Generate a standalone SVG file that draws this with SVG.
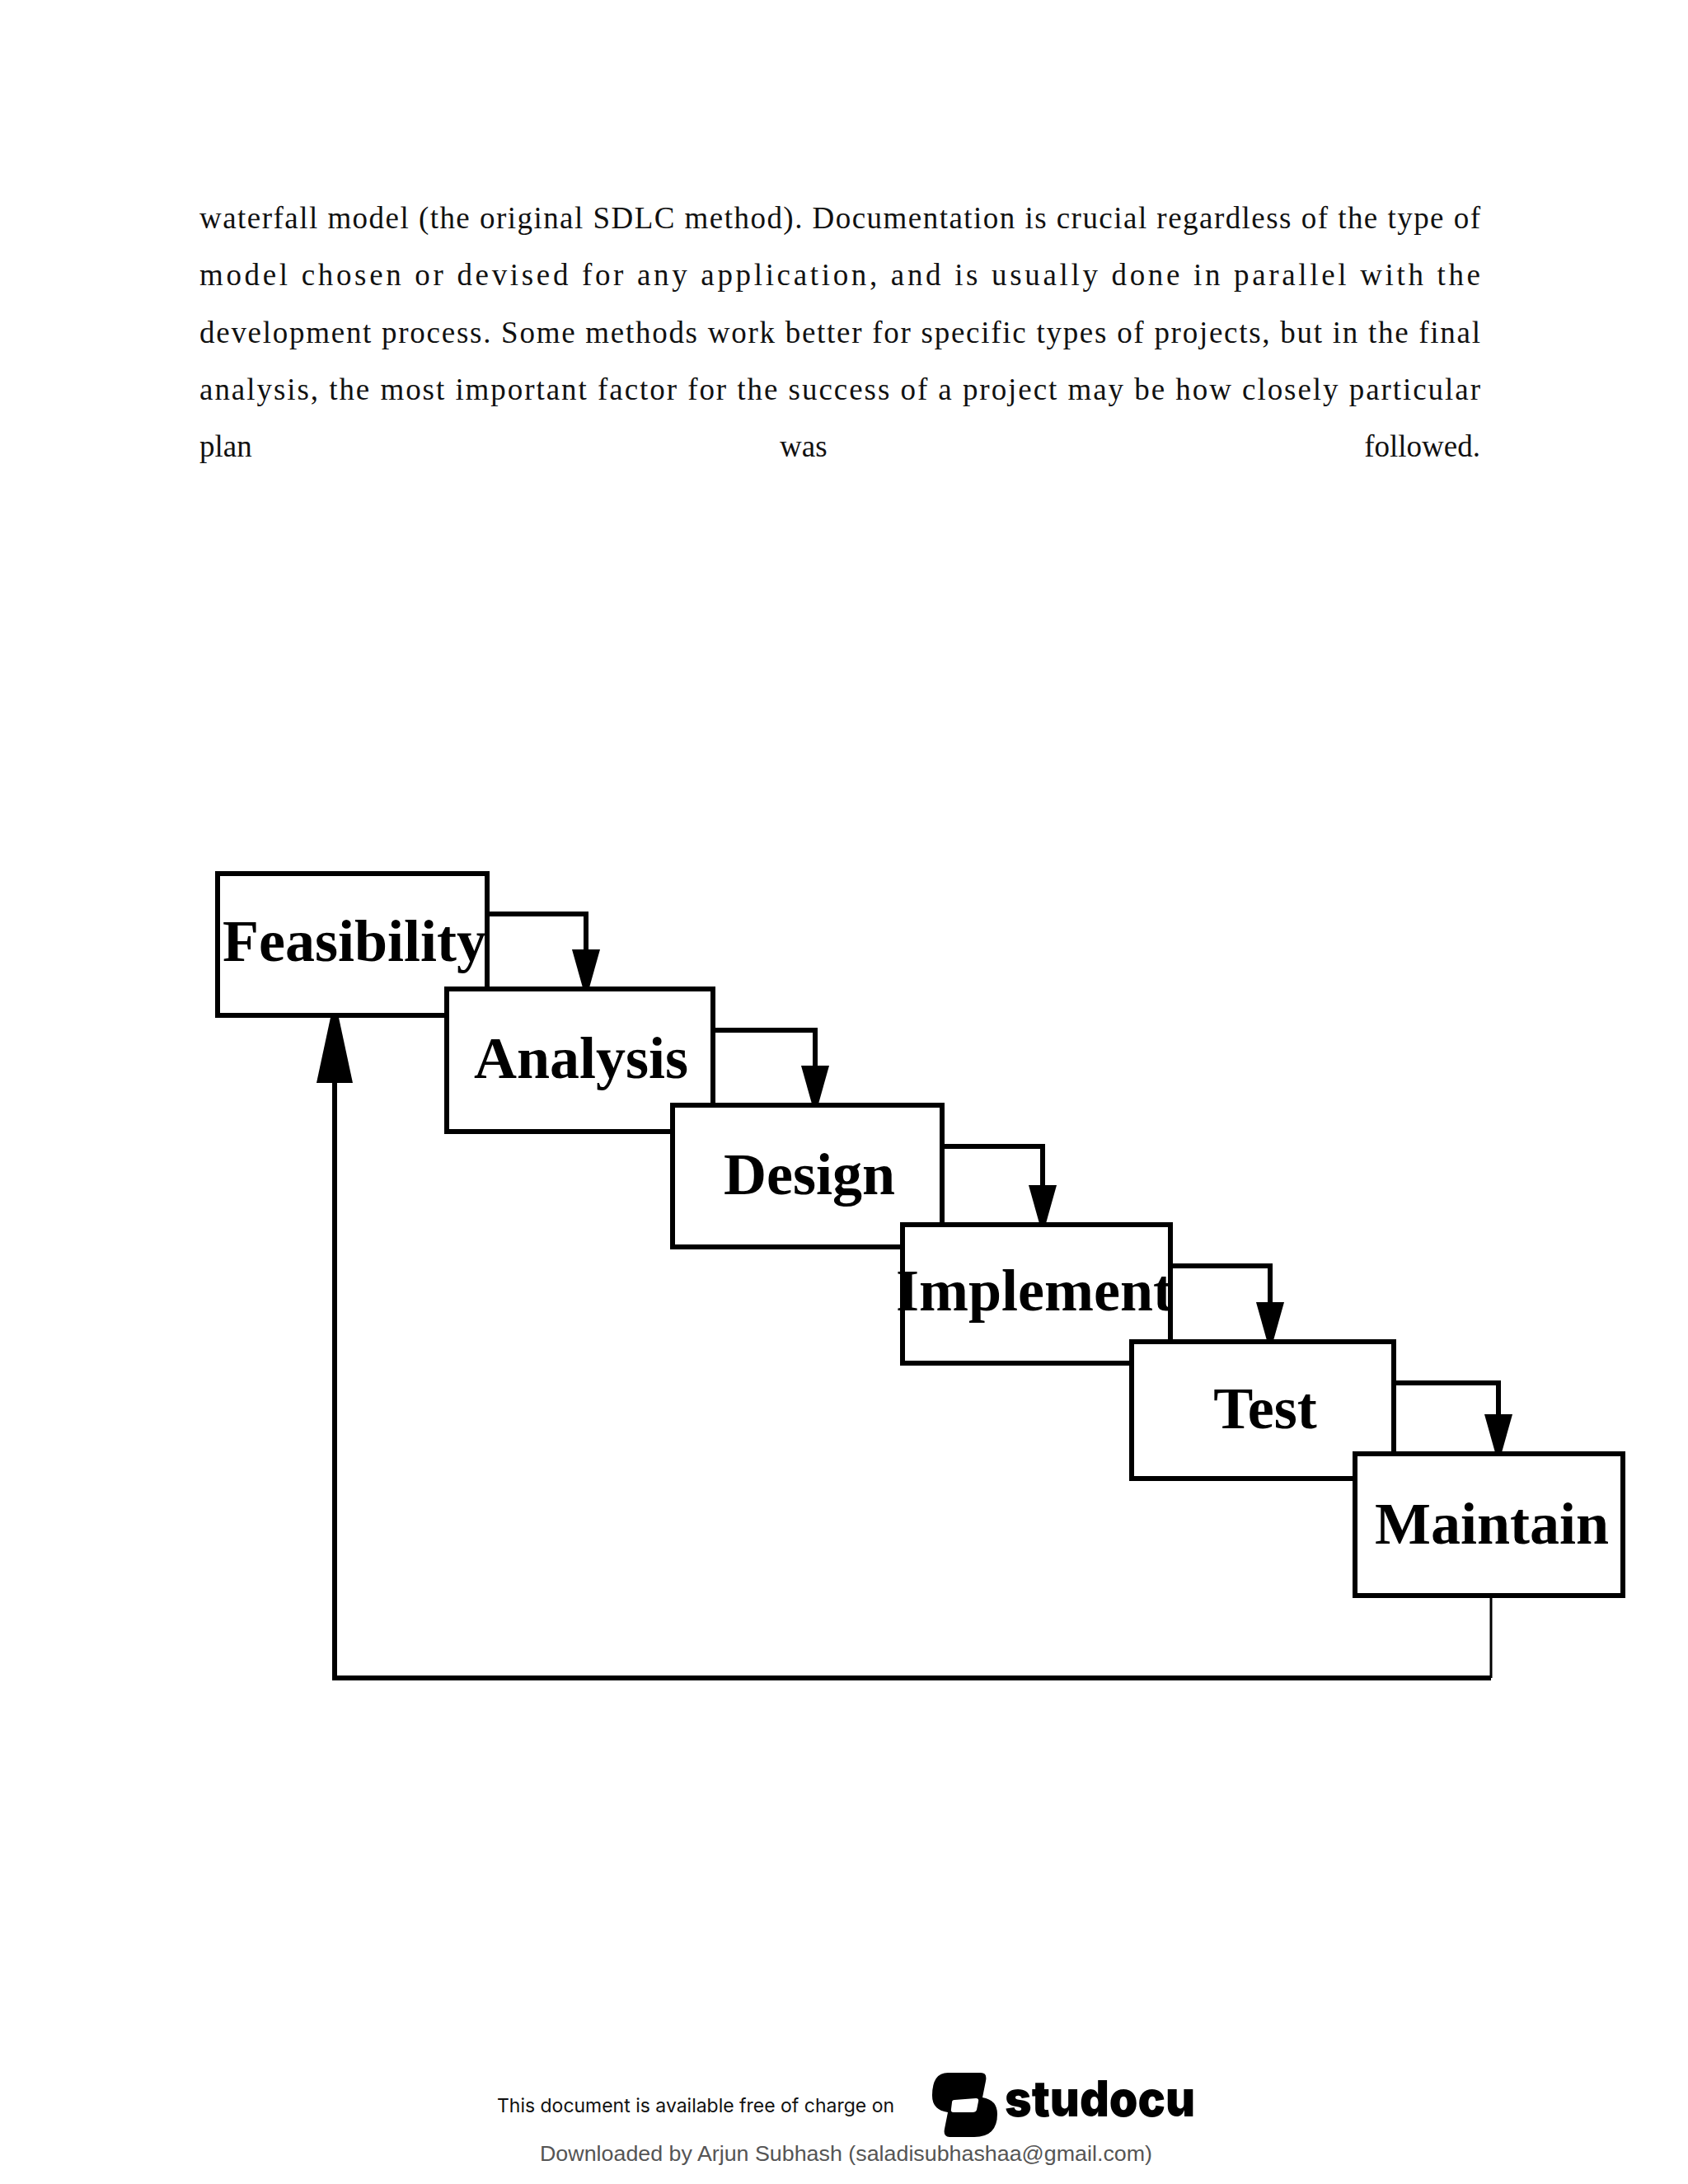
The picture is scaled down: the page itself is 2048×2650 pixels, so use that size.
<svg xmlns="http://www.w3.org/2000/svg" width="2048" height="2650" viewBox="0 0 2048 2650">
<style>
.p{font-family:"Liberation Serif",serif;font-size:37px;fill:#111}
.box{fill:#fff;stroke:#000;stroke-width:6}
.lbl{font-family:"Liberation Serif",serif;font-weight:bold;font-size:72px;fill:#000;text-anchor:middle}
.c{fill:none;stroke:#000;stroke-width:6}
</style>
<defs>
<marker id="ah" markerUnits="userSpaceOnUse" markerWidth="50" markerHeight="34" refX="48" refY="17" orient="auto" viewBox="0 0 50 34">
<path d="M0,0 L0,34 L50,20 L50,14 Z" fill="#000"/>
</marker>
<marker id="up" markerUnits="userSpaceOnUse" markerWidth="84" markerHeight="44" refX="82" refY="22" orient="auto" viewBox="0 0 84 44">
<path d="M0,0 L0,44 L84,26 L84,18 Z" fill="#000"/>
</marker>
</defs>
<rect width="2048" height="2650" fill="#fff"/>
<g id="paragraph">
<text class="p" x="242" y="277" textLength="1554" lengthAdjust="spacing">waterfall model (the original SDLC method). Documentation is crucial regardless of the type of</text>
<text class="p" x="242" y="346" textLength="1554" lengthAdjust="spacing">model chosen or devised for any application, and is usually done in parallel with the</text>
<text class="p" x="242" y="416" textLength="1554" lengthAdjust="spacing">development process. Some methods work better for specific types of projects, but in the final</text>
<text class="p" x="242" y="485" textLength="1554" lengthAdjust="spacing">analysis, the most important factor for the success of a project may be how closely particular</text>
<text class="p" x="242" y="554">plan</text>
<text class="p" x="946" y="554">was</text>
<text class="p" x="1796" y="554" text-anchor="end">followed.</text>
</g>
<g id="connectors">
<path class="c" d="M591,1109 H711 V1200" marker-end="url(#ah)"/>
<path class="c" d="M865,1250 H989 V1341" marker-end="url(#ah)"/>
<path class="c" d="M1143,1391 H1265 V1486" marker-end="url(#ah)"/>
<path class="c" d="M1420,1536 H1541 V1628" marker-end="url(#ah)"/>
<path class="c" d="M1691,1678 H1818 V1764" marker-end="url(#ah)"/>
<path fill="none" stroke="#000" stroke-width="3" d="M1809,1936 V2036"/>
<path class="c" d="M1809,2036 H406 V1232" marker-end="url(#up)"/>
</g>
<g id="feasibility"><rect class="box" x="264" y="1060" width="327" height="172"/><text class="lbl" x="430" y="1166">Feasibility</text></g>
<g id="analysis"><rect class="box" x="542" y="1200" width="323" height="173"/><text class="lbl" x="705" y="1308">Analysis</text></g>
<g id="design"><rect class="box" x="816" y="1341" width="327" height="172"/><text class="lbl" x="982" y="1449">Design</text></g>
<g id="implement"><rect class="box" x="1095" y="1486" width="325" height="168"/><text class="lbl" x="1255" y="1590">Implement</text></g>
<g id="test"><rect class="box" x="1373" y="1628" width="318" height="166"/><text class="lbl" x="1535" y="1733">Test</text></g>
<g id="maintain"><rect class="box" x="1644" y="1764" width="325" height="172"/><text class="lbl" x="1810" y="1873">Maintain</text></g>
<g id="footer">
<text x="603" y="2563" font-family="Inter,'Liberation Sans',sans-serif" font-size="23" fill="#111" textLength="482" lengthAdjust="spacingAndGlyphs">This document is available free of charge on</text>
<path d="M1150,2515 H1190 Q1198,2515 1196,2525 L1192,2545 Q1210,2548 1210,2565 Q1210,2593 1182,2593 H1152 Q1144,2593 1146,2583 L1150,2563 Q1131,2560 1131,2543 Q1131,2515 1150,2515 Z" fill="#000"/>
<path d="M1158,2548 L1184,2546 Q1188,2546 1187,2550 L1185,2560 Q1184,2563 1180,2563 L1157,2563 Q1153,2563 1154,2559 L1155,2551 Q1155,2548 1158,2548 Z" fill="#fff"/>
<text x="1219" y="2568" font-family="Inter,'Liberation Sans',sans-serif" font-weight="900" font-size="60" fill="#000" textLength="231" lengthAdjust="spacingAndGlyphs">studocu</text>
<text x="655" y="2622" font-family="'Liberation Sans',sans-serif" font-size="26" fill="#555" textLength="743" lengthAdjust="spacingAndGlyphs">Downloaded by Arjun Subhash (saladisubhashaa@gmail.com)</text>
</g>
</svg>
